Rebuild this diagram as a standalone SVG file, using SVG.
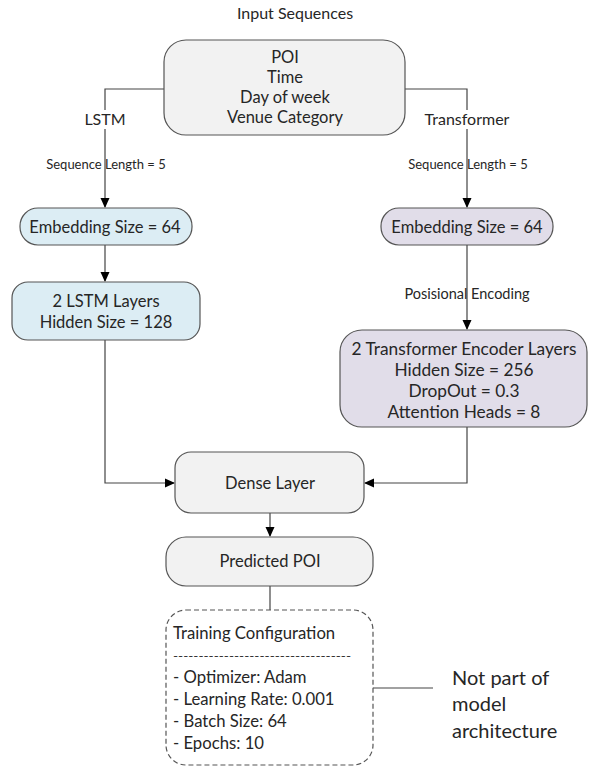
<svg xmlns="http://www.w3.org/2000/svg" width="591" height="768" viewBox="0 0 591 768">
  <defs>
    <marker id="arrow" markerWidth="10" markerHeight="10" refX="9" refY="5" orient="auto" markerUnits="userSpaceOnUse">
      <path d="M0,0.5 L10,5 L0,9.5 Z" fill="#000"/>
    </marker>
  </defs>
  <style>
    text { font-family: Lato, "Liberation Sans", sans-serif; fill: #262626; }
    .node { stroke: #555; stroke-width: 1.2; }
    .gray { fill: #f2f2f2; }
    .blue { fill: #dcedf4; }
    .purple { fill: #e1dde9; }
    .t { font-size: 16.5px; text-anchor: middle; }
    .tt { font-size: 17.3px; text-anchor: middle; }
    .small { font-size: 13px; text-anchor: middle; }
    .lbl { font-size: 16px; text-anchor: middle; }
    .wire { fill: none; stroke: #444; stroke-width: 1.2; }
    .lft { font-size: 16.7px; text-anchor: start; }
    .note { font-size: 20px; }
  </style>

  <rect width="591" height="768" fill="#fff"/>

  <text x="295" y="19" class="lbl">Input Sequences</text>

  <!-- connectors -->
  <g id="connectors">
    <path class="wire" d="M164,89 H105 V207" marker-end="url(#arrow)"/>
    <path class="wire" d="M405,89 H467 V207" marker-end="url(#arrow)"/>
    <path class="wire" d="M105,245 V281" marker-end="url(#arrow)"/>
    <path class="wire" d="M467,245 V329" marker-end="url(#arrow)"/>
    <path class="wire" d="M105,340 V483 H174" marker-end="url(#arrow)"/>
    <path class="wire" d="M467,427 V483 H365" marker-end="url(#arrow)"/>
    <path class="wire" d="M270,513 V536" marker-end="url(#arrow)"/>
    <path class="wire" d="M270,586 V610"/>
    <path class="wire" d="M373,688 H433"/>
    <!-- edge labels with white backing -->
    <rect x="76" y="110" width="58" height="19" fill="#fff"/>
    <text x="105" y="125" class="lbl">LSTM</text>
    <rect x="418" y="110" width="98" height="19" fill="#fff"/>
    <text x="467" y="125" class="lbl">Transformer</text>
    <text x="106" y="169" class="small">Sequence Length = 5</text>
    <text x="468" y="169" class="small">Sequence Length = 5</text>
    <text x="467" y="299" class="small" style="font-size:14.5px">Posisional Encoding</text>
  </g>

  <g id="input">
    <rect class="node gray" x="164" y="40" width="241" height="95" rx="22"/>
    <text x="285" y="63" class="t">POI</text>
    <text x="285" y="83" class="t">Time</text>
    <text x="285" y="103" class="t">Day of week</text>
    <text x="285" y="123" class="t">Venue Category</text>
  </g>

  <g id="lstm-embedding">
    <rect class="node blue" x="20" y="208" width="172" height="37" rx="18"/>
    <text x="105" y="233" class="t">Embedding Size = 64</text>
  </g>

  <g id="lstm-layers">
    <rect class="node blue" x="12" y="282" width="188" height="58" rx="16"/>
    <text x="106" y="307" class="t">2 LSTM Layers</text>
    <text x="106" y="328" class="t">Hidden Size = 128</text>
  </g>

  <g id="transformer-embedding">
    <rect class="node purple" x="381" y="208" width="172" height="37" rx="18"/>
    <text x="467" y="233" class="t">Embedding Size = 64</text>
  </g>

  <g id="transformer-layers">
    <rect class="node purple" x="340" y="330" width="247" height="97" rx="22"/>
    <text x="464" y="355" class="tt">2 Transformer Encoder Layers</text>
    <text x="464" y="376" class="tt">Hidden Size = 256</text>
    <text x="464" y="397" class="tt">DropOut = 0.3</text>
    <text x="464" y="418" class="tt">Attention Heads = 8</text>
  </g>

  <g id="dense">
    <rect class="node gray" x="175" y="452" width="189" height="61" rx="16"/>
    <text x="270" y="489" class="t">Dense Layer</text>
  </g>

  <g id="predicted">
    <rect class="node gray" x="166" y="537" width="207" height="49" rx="20"/>
    <text x="270" y="567" class="t">Predicted POI</text>
  </g>

  <g id="training-config">
    <rect x="166" y="610" width="207" height="155" rx="20" fill="#fff" stroke="#555" stroke-width="1.2" stroke-dasharray="5,3"/>
    <text x="173" y="639" class="lft">Training Configuration</text>
    <text x="173" y="660" class="lft" style="font-size:11px" textLength="178" lengthAdjust="spacingAndGlyphs">-----------------------------------</text>
    <text x="173" y="683" class="lft">- Optimizer: Adam</text>
    <text x="173" y="705" class="lft">- Learning Rate: 0.001</text>
    <text x="173" y="727" class="lft">- Batch Size: 64</text>
    <text x="173" y="749" class="lft">- Epochs: 10</text>
  </g>

  <g id="note">
    <text x="452" y="685" class="note">Not part of</text>
    <text x="452" y="711" class="note">model</text>
    <text x="452" y="738" class="note">architecture</text>
  </g>
</svg>
